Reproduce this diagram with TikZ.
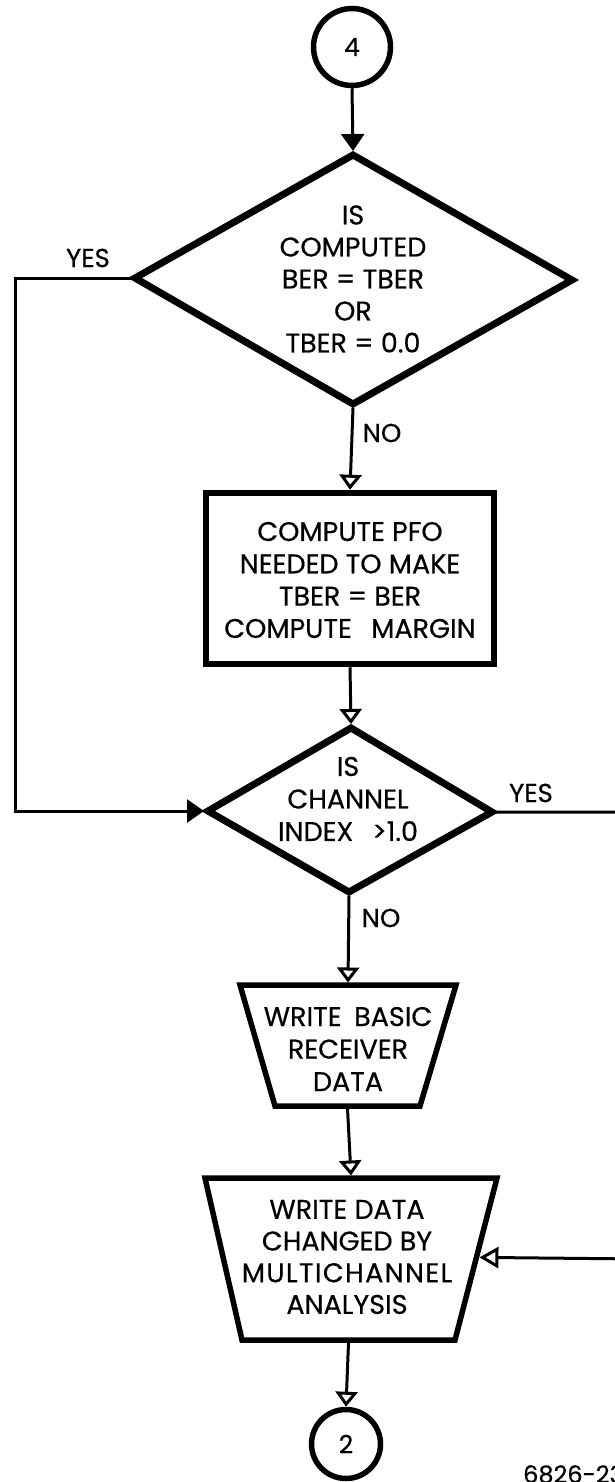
\documentclass[tikz,border=0pt]{standalone}
\usepackage{fontspec}
\setmainfont{Poppins}[FakeBold=0.5]
\usetikzlibrary{arrows.meta,calc}
\tikzset{
  shapeline/.style={line width=7pt, line join=miter},
  trapline/.style={line width=5.5pt, line join=miter},
  conn/.style={line width=3pt},
  openarrow/.style={-{Triangle[open,length=15pt,width=22pt,line width=3pt]}},
  fillarrow/.style={-{Triangle[length=17pt,width=23pt]}},
  txt/.style={align=center, inner sep=0pt, text=black},
  lbl/.style={inner sep=0pt, font=\fontsize{26}{30}\selectfont},
  conncircle/.style={circle, draw, line width=5.5pt, inner sep=0pt, font=\fontsize{25}{28}\selectfont}
}
\begin{document}
\begin{tikzpicture}[x=1pt,y=-1pt]
\useasboundingbox (0,0) rectangle (615,1482);
\fill[white] (0,0) rectangle (615,1482);

% connector 4
\node[conncircle, minimum size=77pt] (c4) at (352,47) {4};

% diamond 1
\coordinate (d1t) at (353,155);
\coordinate (d1l) at (135,278);
\coordinate (d1r) at (572,280);
\coordinate (d1b) at (353,404);
\draw[shapeline] (d1t) -- (d1r) -- (d1b) -- (d1l) -- cycle;
\node[txt, font=\fontsize{27}{32}\selectfont] (d1txt) at (353,279) {IS\\COMPUTED\\BER = TBER\\OR\\TBER = 0.0};

% process box
\node[draw, line width=6.5pt, minimum width=288pt, minimum height=171pt, inner sep=0pt] (box) at (350,578.5) {};
\node[txt, font=\fontsize{27}{32.3}\selectfont] (boxtxt) at (350,580) {COMPUTE PFO\\NEEDED TO MAKE\\TBER = BER\\COMPUTE\hspace{0.45em} MARGIN};

% diamond 2
\coordinate (d2t) at (351,728);
\coordinate (d2l) at (208,811);
\coordinate (d2r) at (492,812);
\coordinate (d2b) at (349,892);
\draw[shapeline] (d2t) -- (d2r) -- (d2b) -- (d2l) -- cycle;
\node[txt, font=\fontsize{27}{32.5}\selectfont] (d2txt) at (348,799) {IS\\CHANNEL\\INDEX\hspace{0.7em}>1.0};

% trapezoid 1
\coordinate (t1tl) at (240,985);
\coordinate (t1tr) at (456,985);
\coordinate (t1br) at (420,1106);
\coordinate (t1bl) at (275,1106);
\draw[trapline] (t1tl) -- (t1tr) -- (t1br) -- (t1bl) -- cycle;
\node[txt, font=\fontsize{27}{32.5}\selectfont] (t1txt) at (348,1049) {WRITE\hspace{0.2em} BASIC\\RECEIVER\\DATA};

% trapezoid 2
\coordinate (t2tl) at (205,1178);
\coordinate (t2tr) at (497,1178);
\coordinate (t2br) at (455,1340);
\coordinate (t2bl) at (242,1340);
\draw[trapline] (t2tl) -- (t2tr) -- (t2br) -- (t2bl) -- cycle;
\node[txt, font=\fontsize{27}{31.7}\selectfont] (t2txt) at (347,1257) {WRITE DATA\\CHANGED BY\\{\addfontfeatures{LetterSpace=5}MULTICHANNEL}\\ANALYSIS};
\coordinate (t2in) at ($(t2tr)!0.49!(t2br)$);

% connector 2
\node[conncircle, minimum size=69pt] (c2) at (346,1444) {2};

% flow connectors
\draw[conn, fillarrow] (c4.south) -- ($(d1t)+(0,-4)$);
\draw[conn, openarrow] ($(d1b)+(0,4)$) -- (box.north);
\draw[conn, openarrow] (box.south) -- ($(d2t)+(0,-4)$);
\draw[conn, openarrow] ($(d2b)+(0,4)$) -- ($(t1tl)!0.5!(t1tr)+(0,-2.5)$);
\draw[conn, openarrow] ($(t1bl)!0.5!(t1br)+(0,2.5)$) -- ($(t2tl)!0.5!(t2tr)+(0,-2.5)$);
\draw[conn, openarrow] ($(t2bl)!0.5!(t2br)+(0,2.5)$) -- (c2.north);

% yes branches
\coordinate (lcorner1) at (15,278);
\coordinate (lcorner2) at (15,811);
\draw[conn, fillarrow] ($(d1l)+(-4,0)$) -- (lcorner1) -- (lcorner2) -- ($(d2l)+(-4,0)$);
\coordinate (rcorner1) at (640,812);
\coordinate (rcorner2) at (640,1259);
\draw[conn, -{Triangle[open,length=19pt,width=21pt,line width=3pt]}] ($(d2r)+(4,0)$) -- (rcorner1) -- (rcorner2) -- ($(t2in)+(3,0)$);

% labels
\node[lbl] (yes1) at (88,258) {YES};
\node[lbl] (no1) at (382,433) {NO};
\node[lbl] (yes2) at (531,793) {YES};
\node[lbl] (no2) at (381,918) {NO};
\node[lbl, anchor=north west, font=\fontsize{24}{28}\selectfont] (fig) at (523,1465) {6826-23};
\end{tikzpicture}
\end{document}
